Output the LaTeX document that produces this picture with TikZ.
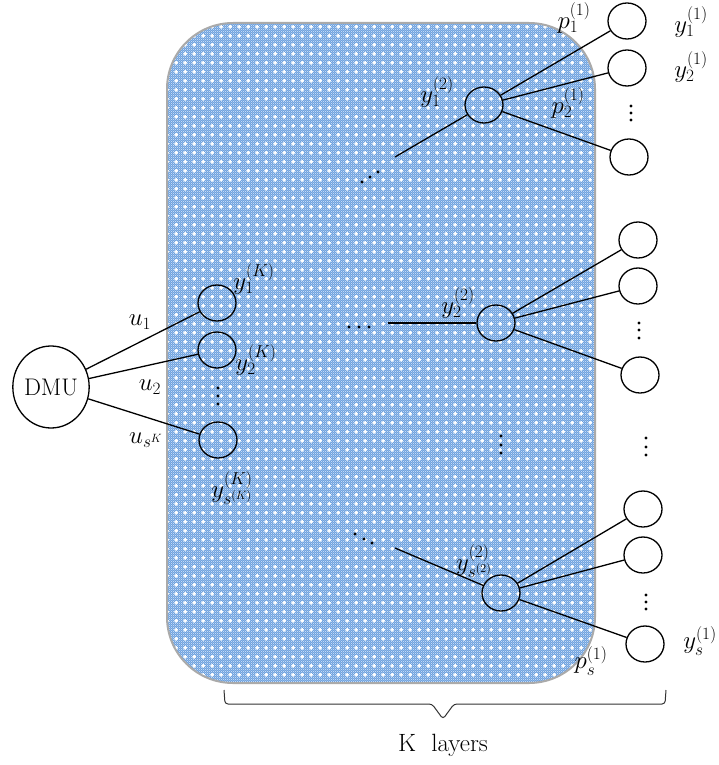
\documentclass[tikz,border=0pt]{standalone}
\usetikzlibrary{shapes.geometric,patterns}

% small white crosses laid over the blue fill of the layer block
\pgfdeclarepatternformonly{whitecross}{\pgfpointorigin}{\pgfpoint{8.6pt}{8.6pt}}{\pgfpoint{8.6pt}{8.6pt}}{%
  \pgfpathrectangle{\pgfpoint{3.6pt}{2.4pt}}{\pgfpoint{1.4pt}{3.8pt}}%
  \pgfpathrectangle{\pgfpoint{2.4pt}{3.6pt}}{\pgfpoint{3.8pt}{1.4pt}}%
  \pgfusepath{fill}}
% fine light checker between the crosses
\pgfdeclarepatternformonly{finechecker}{\pgfpointorigin}{\pgfpoint{2.2pt}{2.2pt}}{\pgfpoint{2.2pt}{2.2pt}}{%
  \pgfpathrectangle{\pgfpoint{0pt}{0pt}}{\pgfpoint{1.1pt}{1.1pt}}%
  \pgfpathrectangle{\pgfpoint{1.1pt}{1.1pt}}{\pgfpoint{1.1pt}{1.1pt}}%
  \pgfusepath{fill}}

\definecolor{layerblue}{RGB}{104,158,222}
\definecolor{layerlight}{RGB}{196,218,244}
\definecolor{layeredge}{RGB}{170,170,170}

\begin{document}
\begin{tikzpicture}[x=1pt,y=-1pt,
  every node/.style={font=\fontsize{24}{28}\selectfont,inner sep=1pt},
  unit/.style={draw,ellipse,line width=1.3pt,minimum width=38pt,minimum height=36pt,inner sep=0pt},
  dmu/.style={draw,ellipse,line width=1.3pt,minimum width=76pt,minimum height=82pt,inner sep=0pt,font=\fontsize{24}{28}\selectfont},
  link/.style={line width=1.3pt},
  dotmark/.style={fill=black}
]
\useasboundingbox (0,0) rectangle (718,765);

% layer block
\fill[layerblue,rounded corners=66pt] (167,23) rectangle (595,683);
\fill[pattern=finechecker,pattern color=layerlight,rounded corners=66pt] (167,23) rectangle (595,683);
\fill[pattern=whitecross,pattern color=white,rounded corners=66pt] (167,23) rectangle (595,683);
\draw[layeredge,line width=2pt,rounded corners=66pt] (167,23) rectangle (595,683);

% input side
\node[dmu] (dmu) at (51,387) {DMU};
\node[unit] (k1) at (217,303) {};
\node[unit] (k2) at (217,350) {};
\node[unit] (ks) at (218,440) {};
\draw[link] (dmu) -- (k1);
\draw[link] (dmu) -- (k2);
\draw[link] (dmu) -- (ks);
\foreach \yy in {388,396,404} \fill[dotmark] (218,\yy) circle (1.6pt);

\node (u1) at (140,322) {$u_1$};
\node (u2) at (150,387) {$u_2$};
\node (us) at (146,440) {$u_{s^K}$};
\node (yk1) at (254,279) {$y_1^{(K)}$};
\node (yk2) at (256,360) {$y_2^{(K)}$};
\node (yks) at (232,488) {$y_{s^{(K)}}^{(K)}$};

% top branch
\node[unit] (t) at (484,105) {};
\node[unit] (t1) at (627,21) {};
\node[unit] (t2) at (627,68) {};
\node[unit] (t3) at (629,157) {};
\coordinate (ta) at (395,157);
\draw[link] (ta) -- (t);
\draw[link] (t) -- (t1);
\draw[link] (t) -- (t2);
\draw[link] (t) -- (t3);
\foreach \yy in {106,113,120} \fill[dotmark] (631,\yy) circle (1.6pt);
\foreach \xx/\yy in {362/182,370/177,378/172} \fill[dotmark] (\xx,\yy) circle (1.6pt);

\node (y11) at (691,22) {$y_1^{(1)}$};
\node (y21) at (691,67) {$y_2^{(1)}$};
\node (p11) at (574,18) {$p_1^{(1)}$};
\node (p21) at (568,103) {$p_2^{(1)}$};
\node (y12) at (437,92) {$y_1^{(2)}$};

% middle branch
\node[unit] (m) at (496,323) {};
\node[unit] (m1) at (638,240) {};
\node[unit] (m2) at (638,286) {};
\node[unit] (m3) at (640,375) {};
\coordinate (ma) at (388,323);
\draw[link] (ma) -- (m);
\draw[link] (m) -- (m1);
\draw[link] (m) -- (m2);
\draw[link] (m) -- (m3);
\foreach \yy in {323,330,338} \fill[dotmark] (639,\yy) circle (1.6pt);
\foreach \xx in {349,359,369} \fill[dotmark] (\xx,327) circle (1.6pt);
\node (y22) at (458,303) {$y_2^{(2)}$};

% gap between branches
\foreach \yy in {436,445,453} \fill[dotmark] (501,\yy) circle (1.6pt);
\foreach \yy in {438,447,455} \fill[dotmark] (646,\yy) circle (1.6pt);

% bottom branch
\node[unit] (b) at (501,593) {};
\node[unit] (b1) at (643,509) {};
\node[unit] (b2) at (643,555) {};
\node[unit] (b3) at (645,644) {};
\coordinate (ba) at (395,548);
\draw[link] (ba) -- (b);
\draw[link] (b) -- (b1);
\draw[link] (b) -- (b2);
\draw[link] (b) -- (b3);
\foreach \yy in {595,602,609} \fill[dotmark] (646,\yy) circle (1.6pt);
\foreach \xx/\yy in {355/534,364/539,372/543} \fill[dotmark] (\xx,\yy) circle (1.6pt);

\node (ys2) at (474,561) {$y_{s^{(2)}}^{(2)}$};
\node (ys1) at (700,641) {$y_s^{(1)}$};
\node (ps1) at (591,661) {$p_s^{(1)}$};

% brace under the block
\coordinate (bl) at (224,690);
\coordinate (br) at (666,690);
\draw[line width=1pt,black!80,rounded corners=3pt]
  (bl) -- (225,704) -- (432,704) -- (443,719) -- (454,704) -- (665,704) -- (br);
\node[font=\fontsize{25}{30}\selectfont] (klayers) at (443,745) {K\ \ layers};
\end{tikzpicture}
\end{document}
